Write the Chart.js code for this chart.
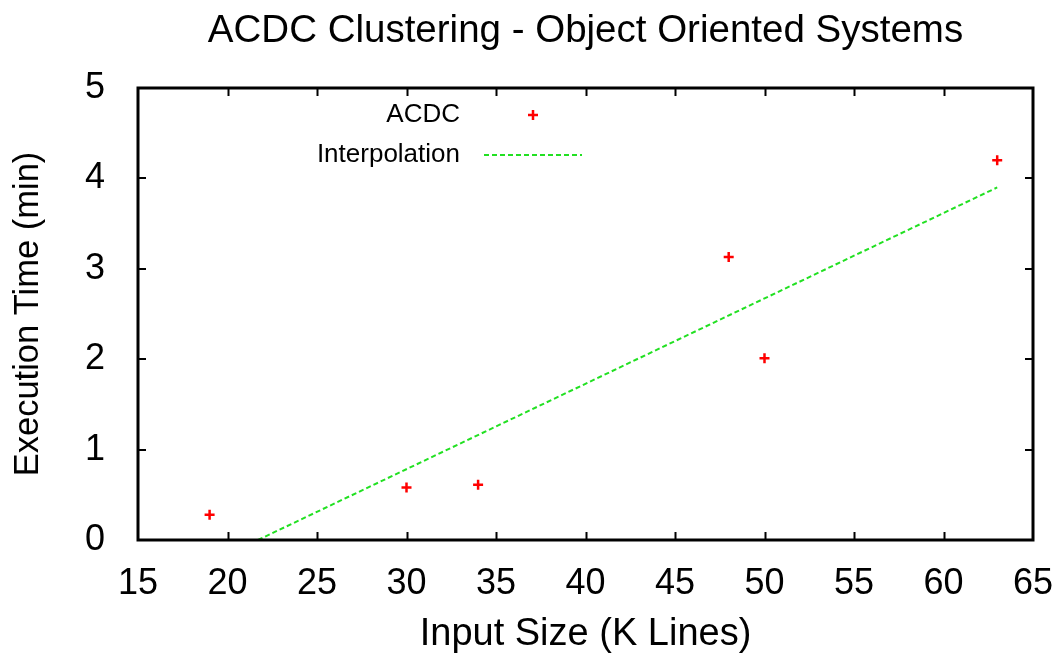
<!DOCTYPE html>
<html>
<head>
<meta charset="utf-8">
<script src="https://cdn.jsdelivr.net/npm/chart.js@4/dist/chart.umd.min.js"></script>
<style>
  body { margin: 0; background: #fff; }
  #wrap { width: 1062px; height: 656px; }
</style>
</head>
<body>
<div id="wrap"><canvas id="acdcChart" width="1062" height="656"></canvas></div>
<script>
// measured points (K lines vs minutes)
const inputSize = [19, 30, 34, 48, 50, 63];
const execTime = [0.28, 0.58, 0.61, 3.13, 2.01, 4.2];

// interpolation line ends
const fitX = [21.7, 63];
const fitY = [0, 3.9];

const xTicks = [15, 20, 25, 30, 35, 40, 45, 50, 55, 60, 65];
const yTicks = [0, 1, 2, 3, 4, 5];

const FONT = '"Liberation Sans", Arial, Helvetica, sans-serif';
const RED = '#ff0000';
const GREEN = '#22e022';

// gnuplot-ish frame with inward ticks on all sides
const framePlugin = {
    id: 'frame',
    afterDatasetsDraw(chart) {
        const { ctx, chartArea: a, scales } = chart;
        ctx.save();
        ctx.strokeStyle = '#000';
        ctx.lineWidth = 2;
        ctx.beginPath();
        xTicks.slice(1, -1).forEach(v => {
            const px = Math.round(scales.x.getPixelForValue(v)) + 0.5;
            ctx.moveTo(px, a.bottom); ctx.lineTo(px, a.bottom - 8);
            ctx.moveTo(px, a.top); ctx.lineTo(px, a.top + 8);
        });
        yTicks.slice(1, -1).forEach(v => {
            const py = Math.round(scales.y.getPixelForValue(v));
            ctx.moveTo(a.left, py); ctx.lineTo(a.left + 8, py);
            ctx.moveTo(a.right, py); ctx.lineTo(a.right - 8, py);
        });
        ctx.stroke();
        ctx.lineWidth = 3;
        ctx.strokeRect(a.left, a.top, a.right - a.left, a.bottom - a.top);
        ctx.restore();
    }
};

// legend inside the plot, text right aligned before the sample
const keyPlugin = {
    id: 'key',
    afterDraw(chart) {
        const { ctx, chartArea: a } = chart;
        const textRight = a.left + 322;
        const sampleL = a.left + 346, sampleR = a.left + 444;
        const row1 = a.top + 27, row2 = a.top + 67;
        ctx.save();
        ctx.font = '26px ' + FONT;
        ctx.fillStyle = '#000';
        ctx.textAlign = 'right';
        ctx.textBaseline = 'middle';
        ctx.fillText('ACDC', textRight, row1);
        ctx.fillText('Interpolation', textRight, row2);
        const mx = (sampleL + sampleR) / 2;
        ctx.strokeStyle = RED;
        ctx.lineWidth = 2.5;
        ctx.beginPath();
        ctx.moveTo(mx - 5, row1); ctx.lineTo(mx + 5, row1);
        ctx.moveTo(mx, row1 - 5); ctx.lineTo(mx, row1 + 5);
        ctx.stroke();
        ctx.strokeStyle = GREEN;
        ctx.lineWidth = 2;
        ctx.setLineDash([5, 3]);
        ctx.beginPath();
        ctx.moveTo(sampleL, row2); ctx.lineTo(sampleR, row2);
        ctx.stroke();
        ctx.restore();
    }
};

new Chart(document.getElementById('acdcChart').getContext('2d'), {
    type: 'scatter',
    data: {
        datasets: [
            {
                label: 'ACDC',
                data: inputSize.map((x, i) => ({ x, y: execTime[i] })),
                pointStyle: 'cross',
                pointRadius: 5,
                pointHoverRadius: 5,
                borderColor: RED,
                backgroundColor: RED,
                pointBorderWidth: 2.5
            },
            {
                label: 'Interpolation',
                type: 'line',
                data: fitX.map((x, i) => ({ x, y: fitY[i] })),
                borderColor: GREEN,
                borderWidth: 2,
                borderDash: [5, 3],
                pointRadius: 0,
                fill: false
            }
        ]
    },
    options: {
        responsive: false,
        animation: false,
        layout: { padding: { left: 0, right: 29, top: 0, bottom: 0 } },
        scales: {
            x: {
                type: 'linear',
                min: 15, max: 65,
                afterBuildTicks(s) { s.ticks = xTicks.map(v => ({ value: v })); },
                afterFit(s) { s.height = 116; s.paddingLeft = 0; s.paddingRight = 0; },
                grid: { display: false },
                border: { display: false },
                ticks: { color: '#000', padding: 14, font: { family: FONT, size: 36 } },
                title: {
                    display: true, text: 'Input Size (K Lines)', color: '#000',
                    font: { family: FONT, size: 38, lineHeight: 1 },
                    padding: { top: 0, bottom: 2 }
                }
            },
            y: {
                min: 0, max: 5,
                afterBuildTicks(s) { s.ticks = yTicks.map(v => ({ value: v })); },
                afterFit(s) { s.width = 138; s.paddingTop = 0; s.paddingBottom = 0; },
                grid: { display: false },
                border: { display: false },
                ticks: { color: '#000', padding: 25, font: { family: FONT, size: 36 } },
                title: {
                    display: true, text: 'Execution Time (min)', color: '#000',
                    font: { family: FONT, size: 34.5, lineHeight: 1 },
                    padding: { top: 11, bottom: 0 }
                }
            }
        },
        plugins: {
            legend: { display: false },
            tooltip: { enabled: false },
            title: {
                display: true,
                fullSize: false,
                text: 'ACDC Clustering - Object Oriented Systems',
                color: '#000',
                font: { family: FONT, size: 38.5, weight: 'normal', lineHeight: 1 },
                padding: { top: 12, bottom: 37.5 }
            }
        }
    },
    plugins: [framePlugin, keyPlugin]
});
</script>
</body>
</html>
